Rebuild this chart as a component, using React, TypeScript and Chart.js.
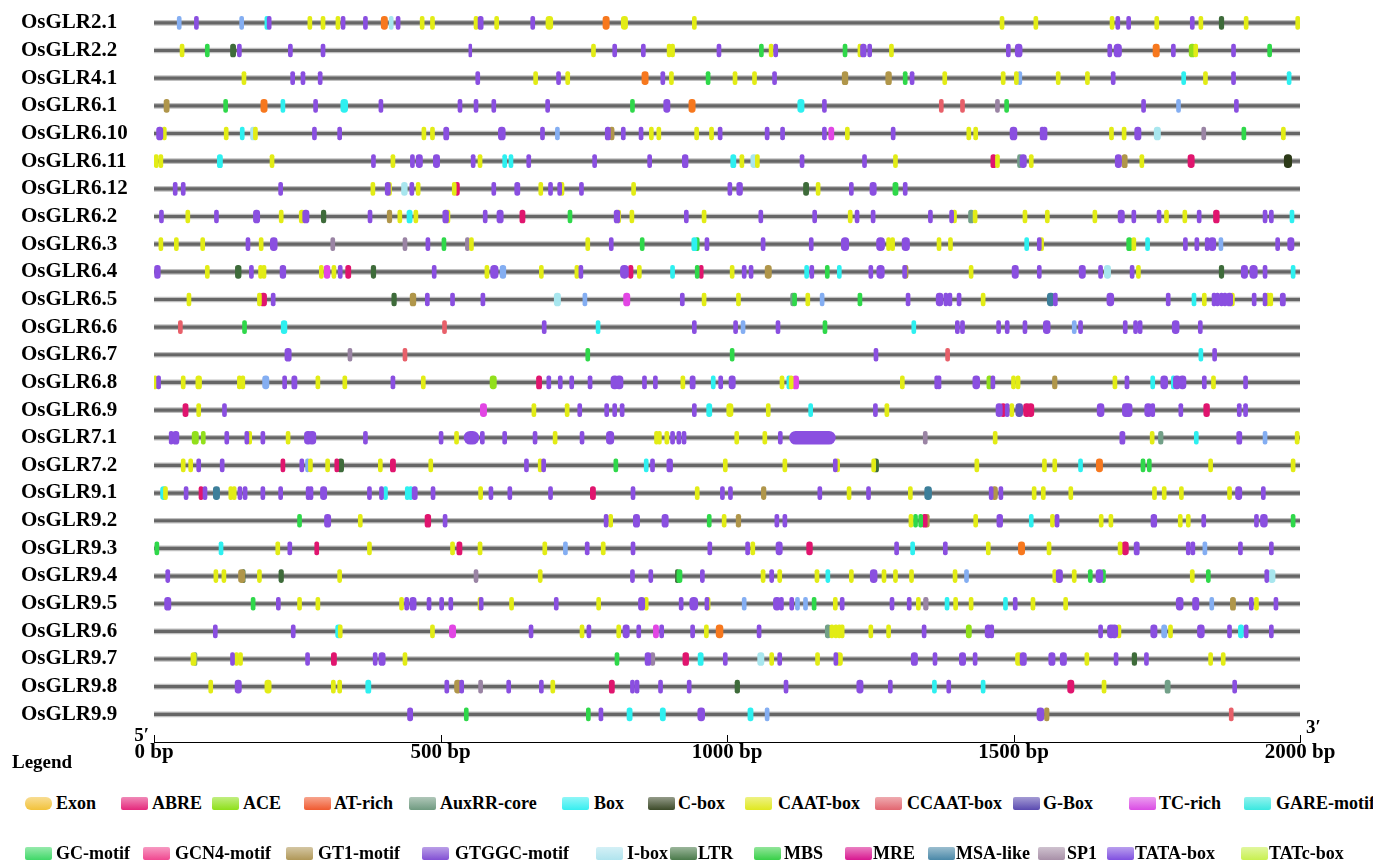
import React, { useEffect, useRef } from "react";
import { Chart, registerables } from "chart.js";

Chart.register(...registerables);

// ---------------- data ----------------
const GENES = [
  "OsGLR2.1", "OsGLR2.2", "OsGLR4.1", "OsGLR6.1", "OsGLR6.10", "OsGLR6.11", "OsGLR6.12",
  "OsGLR6.2", "OsGLR6.3", "OsGLR6.4", "OsGLR6.5", "OsGLR6.6", "OsGLR6.7", "OsGLR6.8",
  "OsGLR6.9", "OsGLR7.1", "OsGLR7.2", "OsGLR9.1", "OsGLR9.2", "OsGLR9.3", "OsGLR9.4",
  "OsGLR9.5", "OsGLR9.6", "OsGLR9.7", "OsGLR9.8", "OsGLR9.9",
];
const SEQ_LENGTH = 2000;
const X_TICKS = [0, 500, 1000, 1500, 2000];
const DEFAULT_SPAN = 7; // bp

const MOTIF_CODES = ["P", "Y", "C", "L", "G", "O", "R", "S", "T", "D", "M", "K", "A", "U", "X", "I", "N", "B"];
const MOTIF_NAMES = ["TATA-box", "CAAT-box", "Box", "G-box", "MBS", "AT-rich", "MRE", "CCAAT-box", "GT1-motif", "LTR", "SP1", "TC-rich", "ACE", "MSA-like", "AuxRR-core", "I-box", "C-box", "G-Box"];
const MOTIF_COLORS = ["#8a4fe0", "#e2ec16", "#2ef0f0", "#84aef2", "#2fd84a", "#f7781e", "#e0156e", "#e8606a", "#b0964a", "#3e6b3a", "#9a84a4", "#e246e4", "#92e01c", "#3d7f9a", "#72a088", "#a8e6ee", "#2c3a18", "#6656b8"];

type Motif = [string, number, number?];

const OsGLR2_1: Motif[] = [["L",44],["P",74],["L",153],["C",197],["P",201],["Y",272],["Y",295],["Y",321],["P",330],["P",369],["O",402,11],["I",414],["P",426],["Y",468],["Y",486],["Y",562],["P",570,9],["Y",598],["P",661],["Y",690,12],["O",789,11],["Y",821,11],["Y",943],["Y",1480],["Y",1539],["Y",1672],["P",1682],["P",1701],["Y",1750],["P",1812],["Y",1827],["D",1863,8],["Y",1906],["Y",1996]];
const OsGLR2_2: Motif[] = [["Y",49],["G",93],["D",138,9],["P",149],["P",238],["P",295],["P",552,5],["Y",767],["P",804],["P",854],["Y",899],["Y",905],["P",986],["G",1060],["Y",1077],["P",1085],["G",1206],["Y",1232],["P",1238,10],["P",1249],["Y",1287],["P",1491],["P",1509,12],["P",1668],["P",1682,13],["O",1749,11],["P",1779],["A",1812,11],["Y",1818],["P",1884],["G",1947]];
const OsGLR4_1: Motif[] = [["Y",157],["P",242],["P",260],["P",290],["P",565],["Y",666],["P",706],["Y",722],["O",857,11],["P",888],["Y",903],["G",967],["Y",1014],["Y",1048],["P",1083],["T",1206,10],["T",1282,10],["G",1311],["P",1323],["Y",1380],["Y",1482],["Y",1505],["L",1511],["Y",1578],["Y",1629],["P",1674],["C",1797],["Y",1835],["P",1884],["C",1981]];
const OsGLR6_1: Motif[] = [["T",22,9],["G",125],["O",192,11],["C",225],["P",282],["C",332,12],["P",396],["P",534],["P",562],["P",593],["P",687],["G",835],["P",895,11],["O",939,11],["C",1129,11],["P",1170],["S",1374],["S",1411],["M",1472],["G",1488],["P",1727],["L",1788],["P",1889]];
const OsGLR6_10: Motif[] = [["P",10,11],["Y",18],["Y",126],["C",154],["I",173,9],["Y",177],["P",280],["P",324],["Y",471],["Y",486],["P",510,9],["P",607,12],["P",678],["L",704],["P",792,9],["T",799,8],["P",819],["P",850],["Y",868],["Y",881],["Y",947],["Y",973],["P",988],["P",1070],["P",1097],["P",1170],["K",1182,9],["Y",1210],["P",1290],["Y",1422],["Y",1434],["P",1500,12],["P",1550],["P",1554,9],["Y",1671],["Y",1693],["P",1717,11],["I",1751,11],["M",1832],["G",1902],["Y",1971]];
const OsGLR6_11: Motif[] = [["Y",4],["Y",12],["C",115,9],["Y",206],["P",383],["Y",417],["P",451],["P",463,11],["P",493,11],["P",557],["Y",569],["C",612],["C",623],["P",654],["P",769],["P",865],["P",927,10],["C",1011,9],["Y",1026],["I",1047,11],["Y",1053],["P",1131],["P",1240],["Y",1294],["R",1465,9],["Y",1472],["X",1511,8],["P",1517,11],["Y",1531],["P",1683,11],["T",1694,9],["Y",1724],["R",1810,11],["N",1979,13]];
const OsGLR6_12: Motif[] = [["P",37],["P",51],["P",221],["Y",382],["P",408,9],["Y",411],["I",437,10],["P",450],["Y",461],["Y",524],["R",529,8],["P",593],["P",634,9],["Y",675],["P",692],["P",708],["Y",712],["P",746],["Y",837],["P",1005],["P",1022,10],["D",1138,9],["Y",1159],["P",1217],["P",1255,11],["G",1294,9],["P",1311]];
const OsGLR6_2: Motif[] = [["P",13],["Y",59],["P",109],["P",179,11],["Y",222],["Y",258,9],["P",265,11],["D",296,8],["P",377],["T",411,8],["Y",429],["C",446,9],["Y",457],["P",509,10],["Y",513],["P",578],["P",604,11],["R",643,9],["G",726],["P",808,10],["Y",811],["Y",834],["P",929],["Y",960],["P",1059],["P",1153],["Y",1215],["P",1227],["P",1255],["P",1355],["P",1392],["Y",1397],["X",1426,9],["Y",1433],["Y",1520],["Y",1559],["Y",1642],["P",1688,11],["P",1710],["P",1754],["Y",1767],["Y",1799],["P",1824],["R",1854,10],["P",1939],["P",1950],["C",1986]];
const OsGLR6_3: Motif[] = [["Y",12],["Y",39],["Y",85],["P",164],["Y",187],["P",209,12],["M",312],["M",438],["P",478],["G",506],["M",547],["Y",554],["Y",757],["P",798],["G",852],["C",943,9],["G",948],["P",965],["P",1063],["P",1147],["P",1206,13],["P",1268,14],["Y",1282],["Y",1289],["P",1312,13],["Y",1370],["Y",1390],["C",1523],["P",1545],["Y",1549],["G",1702,9],["Y",1710],["C",1734],["P",1800],["P",1820],["P",1838],["P",1847,12],["L",1862],["P",1961],["P",1984,11]];
const OsGLR6_4: Motif[] = [["P",6,10],["Y",93],["D",147,10],["P",170],["Y",186],["Y",192],["P",225,10],["Y",292],["K",302,10],["Y",314],["P",325],["R",339,9],["D",383,8],["P",489],["Y",581],["P",594,13],["L",609,10],["Y",676],["Y",738],["P",745],["P",821,14],["R",832,8],["Y",847],["C",905],["G",948],["R",955],["Y",1009],["P",1030],["P",1042],["T",1072,11],["C",1139],["P",1148],["G",1175],["C",1196],["P",1251],["P",1268,13],["P",1310],["T",1312,8],["Y",1426],["P",1503,11],["P",1545],["P",1620,11],["P",1652],["I",1664,11],["P",1707],["Y",1718],["D",1863,8],["P",1903,11],["P",1919,13],["P",1939],["C",1988]];
const OsGLR6_5: Motif[] = [["Y",61],["Y",184],["R",191,11],["P",208],["D",419,8],["T",452,10],["P",477],["P",521],["P",574],["I",704,11],["L",752],["K",825,11],["P",922],["Y",960],["Y",1020],["X",1115,8],["G",1118],["Y",1141],["L",1166],["G",1232],["P",1316],["P",1371,12],["P",1382],["P",1389],["P",1405],["Y",1447],["U",1565,12],["P",1573],["P",1669,12],["P",1770],["C",1815],["Y",1833],["P",1850],["P",1856],["P",1863],["P",1869],["P",1877,11],["Y",1882],["P",1920],["P",1939],["Y",1944],["Y",1949],["P",1970,9]];
const OsGLR6_6: Motif[] = [["S",46],["G",158],["C",227,10],["S",507],["P",681],["C",775],["P",943],["P",1015],["L",1028],["P",1089],["G",1171],["C",1326],["P",1402],["P",1411],["P",1474],["P",1489],["P",1520],["P",1558,12],["L",1606],["P",1617],["P",1695],["P",1713],["P",1721],["P",1783,12],["P",1826]];
const OsGLR6_7: Motif[] = [["P",234,11],["M",342],["S",438],["G",757],["G",1009],["P",1260],["S",1385],["C",1827],["P",1851]];
const OsGLR6_8: Motif[] = [["Y",2],["P",8],["Y",51],["Y",78,10],["Y",149],["Y",155],["L",195,11],["P",228],["P",245,9],["Y",286],["Y",333],["P",417],["Y",470],["A",592,11],["R",672,9],["P",689],["P",709],["P",729],["P",761],["P",804,13],["P",812,13],["P",856],["P",875],["Y",923],["P",940,9],["C",976],["P",989],["P",1009,11],["Y",1096],["C",1108],["Y",1112],["K",1120,10],["Y",1306],["P",1366],["P",1370],["P",1435,12],["A",1458,9],["P",1464],["Y",1500],["Y",1508],["T",1572,8],["Y",1677],["P",1698],["C",1743],["P",1763,12],["C",1779],["P",1785,12],["P",1795,12],["P",1833],["Y",1849],["P",1905]];
const OsGLR6_9: Motif[] = [["R",55,9],["Y",78],["P",123],["K",575,11],["Y",663],["Y",721],["P",743],["P",790],["P",804],["P",817],["P",943],["C",969,9],["Y",1005,11],["Y",1072],["C",1146],["P",1259],["Y",1279],["P",1475,11],["R",1482,8],["P",1489],["Y",1497],["B",1510,12],["R",1523,11],["R",1530,11],["P",1652,12],["P",1696,12],["P",1701,12],["P",1735,12],["P",1743],["P",1792],["R",1837,10],["P",1894],["P",1905]];
const OsGLR7_1: Motif[] = [["P",30],["P",38,11],["A",72,11],["A",86],["P",127],["P",162],["Y",167],["P",190],["Y",234],["P",269,13],["P",276,13],["P",369],["P",501],["Y",528],["P",554,26],["P",573],["P",612],["P",665],["Y",700],["P",747],["P",796,13],["Y",877],["Y",882],["Y",895],["P",905],["P",916],["P",925],["Y",1017],["Y",1066],["P",1093],["P",1149,80],["M",1346],["Y",1468],["P",1690,9],["Y",1742],["X",1757,8],["C",1819],["P",1894,9],["L",1939],["Y",1995]];
const OsGLR7_2: Motif[] = [["Y",51],["Y",64],["P",78],["P",119],["R",225],["P",258],["L",268],["Y",273],["Y",303],["R",319],["D",326,10],["Y",395],["R",417,9],["Y",483],["P",650],["Y",674],["P",680],["G",806],["C",859],["P",870],["P",900,10],["Y",997],["Y",1101],["P",1189],["Y",1193],["Y",1256],["D",1260,9],["Y",1436],["Y",1554],["Y",1572],["C",1617],["O",1650,11],["G",1726],["G",1737],["Y",1844],["Y",1988]];
const OsGLR9_1: Motif[] = [["C",17,11],["Y",20],["P",56],["R",82],["P",89],["U",109,11],["Y",134],["Y",140],["P",150],["P",159],["P",190],["P",221],["P",269],["P",274],["P",296,11],["P",376],["P",397],["C",404],["C",442],["C",448],["P",455,9],["P",487],["Y",570],["P",588],["P",621],["P",692],["R",766,9],["P",836],["Y",948],["P",992],["P",1006],["T",1064,8],["P",1162],["Y",1213],["P",1247],["Y",1320],["U",1351,12],["P",1461],["T",1467,10],["P",1478],["Y",1536],["Y",1552],["Y",1600],["Y",1746],["Y",1763],["Y",1793],["Y",1877],["P",1893,11],["P",1936]];
const OsGLR9_2: Motif[] = [["G",254],["P",303,11],["Y",360],["R",478,10],["P",508],["P",789],["Y",797],["P",842,11],["P",892,11],["G",969],["Y",995],["T",1020,8],["P",1087],["P",1101],["Y",1321],["G",1329],["G",1338],["R",1345,9],["T",1349,8],["Y",1434],["P",1476,10],["C",1531],["Y",1568],["P",1576],["Y",1653],["Y",1670],["P",1745,10],["Y",1791],["Y",1805],["P",1832],["P",1924],["P",1937,12],["G",1988]];
const OsGLR9_3: Motif[] = [["G",5],["C",117],["Y",216],["P",237],["R",284],["Y",376],["Y",521],["R",533,9],["Y",569],["Y",682],["L",718],["P",756],["Y",784],["P",836],["P",970],["P",1036],["Y",1045],["P",1091,11],["R",1144,10],["P",1296],["C",1324],["P",1381],["Y",1456],["O",1514,11],["Y",1562],["Y",1686],["R",1695,11],["P",1715,9],["P",1805],["P",1813],["L",1834],["P",1896],["P",1950]];
const OsGLR9_4: Motif[] = [["P",24],["Y",108],["Y",122],["T",153,11],["D",156,6],["Y",184],["D",222,8],["Y",324],["M",562],["Y",674],["P",835],["P",867],["D",913,6],["G",917,9],["P",957],["Y",1063],["P",1078],["Y",1092],["Y",1157],["C",1176],["Y",1217],["P",1256,12],["Y",1274],["Y",1294],["Y",1322],["Y",1398],["L",1418],["Y",1572],["P",1580,11],["Y",1606],["G",1634],["P",1650,12],["G",1657],["Y",1812],["G",1840],["P",1942],["I",1951,11]];
const OsGLR9_5: Motif[] = [["P",24,11],["G",173],["P",217],["Y",254],["Y",286],["Y",432],["P",441],["P",452,11],["P",480],["P",502],["P",518],["Y",569],["P",571],["Y",624],["P",702],["Y",776],["P",851,11],["Y",859],["P",920],["P",942,14],["P",965],["Y",967],["L",1030],["P",1087,12],["P",1095],["P",1113],["L",1123],["L",1137],["G",1152],["Y",1189],["P",1201],["P",1288],["P",1318],["Y",1334],["M",1347,8],["C",1384],["Y",1399],["Y",1426],["C",1486],["P",1503],["Y",1534],["Y",1591],["P",1790,12],["P",1818,11],["L",1846],["T",1883,9],["P",1915],["Y",1924],["P",1958]];
const OsGLR9_6: Motif[] = [["P",107],["P",243],["C",322,10],["Y",325],["Y",486],["K",521,11],["P",658],["Y",747],["P",759],["Y",811],["P",824,11],["P",846],["K",876,9],["P",886],["P",940],["Y",964],["O",987,12],["P",1056],["X",1176,9],["Y",1183],["Y",1190],["Y",1196],["Y",1201],["Y",1251],["Y",1282],["P",1344],["A",1422,9],["P",1456,11],["P",1462],["P",1652],["P",1670,12],["P",1676,12],["Y",1684],["P",1745,11],["L",1763,9],["Y",1774],["P",1827,12],["P",1877],["C",1897,9],["P",1906],["P",1950]];
const OsGLR9_7: Motif[] = [["Y",69,9],["X",72,6],["P",137],["Y",144],["Y",151],["P",268],["R",314,9],["P",386],["P",398,11],["Y",438],["G",808],["P",862,10],["M",870,8],["R",928,10],["C",954,9],["P",997],["I",1059,11],["Y",1078],["P",1092],["Y",1158],["P",1190],["Y",1196,11],["P",1327,11],["P",1363],["P",1411,11],["P",1433],["Y",1509,11],["P",1517,11],["P",1567,11],["P",1587,11],["Y",1628],["P",1679],["D",1711,8],["P",1732],["Y",1844],["Y",1866]];
const OsGLR9_8: Motif[] = [["Y",99],["P",147,11],["Y",199,11],["Y",313],["Y",324],["C",374,9],["P",511],["T",530,11],["P",537],["M",570],["P",619],["P",676],["Y",696],["R",799,9],["P",835],["P",843],["P",884],["P",934],["D",1018,8],["P",1103],["P",1232,11],["P",1285],["C",1362],["P",1387],["C",1447],["R",1600,11],["Y",1658],["X",1769,9],["P",1886]];
const OsGLR9_9: Motif[] = [["P",447,9],["G",545],["G",758],["P",780],["C",830,9],["C",888,9],["P",955,12],["C",1041,9],["L",1070],["P",1547,12],["T",1558,8],["S",1880]];

const ROWS: Motif[][] = [
  OsGLR2_1, OsGLR2_2, OsGLR4_1, OsGLR6_1, OsGLR6_10, OsGLR6_11, OsGLR6_12, OsGLR6_2,
  OsGLR6_3, OsGLR6_4, OsGLR6_5, OsGLR6_6, OsGLR6_7, OsGLR6_8, OsGLR6_9, OsGLR7_1,
  OsGLR7_2, OsGLR9_1, OsGLR9_2, OsGLR9_3, OsGLR9_4, OsGLR9_5, OsGLR9_6, OsGLR9_7,
  OsGLR9_8, OsGLR9_9,
];

// legend
const LEGEND_ROW1 = ["Exon", "ABRE", "ACE", "AT-rich", "AuxRR-core", "Box", "C-box", "CAAT-box", "CCAAT-box", "G-Box", "TC-rich", "GARE-motif"];
const LEGEND_ROW1_COLORS = ["#f2c23a", "#e4287c", "#8ee01a", "#f05a30", "#6f9a80", "#36eef0", "#3c4a28", "#e0e820", "#e26670", "#5a4ab0", "#da4ce4", "#3ae8e0"];
const LEGEND_ROW2 = ["GC-motif", "GCN4-motif", "GT1-motif", "GTGGC-motif", "I-box", "LTR", "MBS", "MRE", "MSA-like", "SP1", "TATA-box", "TATc-box"];
const LEGEND_ROW2_COLORS = ["#40d868", "#f04890", "#b09858", "#8250d4", "#b0e4ee", "#4a7a4a", "#38d048", "#d81890", "#4a88a8", "#a890a8", "#8050e0", "#c8f050"];

// ---------------- layout (styles) ----------------
const FONT = '"Liberation Serif", "Times New Roman", serif';
const LEG1_POS = [[25, 56], [121, 152], [212, 243], [304, 334], [409, 440], [562, 594], [648, 678], [745, 778], [875, 907], [1013, 1043], [1129, 1159], [1244, 1276]];
const LEG2_POS = [[25, 56], [143, 175], [286, 318], [422, 455], [596, 627], [670, 698], [754, 784], [845, 873], [928, 956], [1038, 1067], [1107, 1135], [1241, 1269]];

function lighten(hex: string, amt: number) {
  const n = parseInt(hex.slice(1), 16);
  const r = (n >> 16) & 255, g = (n >> 8) & 255, b = n & 255;
  const f = (c: number) => Math.round(c + (255 - c) * amt);
  return `rgb(${f(r)},${f(g)},${f(b)})`;
}

const axisDecor = {
  id: "axisDecor",
  afterDraw(chart: any) {
    const { ctx, chartArea } = chart;
    const x = chart.scales.x;
    ctx.save();
    ctx.strokeStyle = "#000";
    ctx.lineWidth = 1;
    X_TICKS.forEach((v) => {
      const px = Math.round(x.getPixelForValue(v)) + 0.5;
      ctx.beginPath();
      ctx.moveTo(px, chartArea.bottom);
      ctx.lineTo(px, chartArea.bottom - 7);
      ctx.stroke();
    });
    ctx.fillStyle = "#000";
    ctx.font = `bold 19px ${FONT}`;
    ctx.textBaseline = "alphabetic";
    ctx.textAlign = "right";
    ctx.fillText("5\u2032", x.getPixelForValue(0) - 5, chartArea.bottom - 1);
    ctx.textAlign = "left";
    ctx.fillText("3\u2032", x.getPixelForValue(SEQ_LENGTH) + 6, chartArea.bottom - 9);
    ctx.restore();
  },
};

export default function App() {
  const ref = useRef<HTMLCanvasElement>(null);

  useEffect(() => {
    if (!ref.current) return;
    const datasets: any[] = [];
    MOTIF_CODES.forEach((code, k) => {
      const data: any[] = [];
      ROWS.forEach((row, i) =>
        row.forEach(([c, pos, span]) => {
          if (c !== code) return;
          const s = span ?? DEFAULT_SPAN;
          data.push({ x: [pos - s / 2, pos + s / 2], y: i });
        })
      );
      datasets.push({
        label: MOTIF_NAMES[k],
        data,
        backgroundColor: MOTIF_COLORS[k],
        barThickness: 13,
        borderRadius: { topLeft: 50, topRight: 50, bottomLeft: 50, bottomRight: 50 },
        borderSkipped: false,
        borderWidth: 0,
        order: 0,
      });
    });
    datasets.push({
      label: "sequence",
      data: GENES.map((_, i) => ({ x: [0, SEQ_LENGTH], y: i })),
      backgroundColor: "#666666",
      barThickness: 2.5,
      borderRadius: 0,
      borderSkipped: false,
      borderWidth: 0,
      order: 5,
    });
    datasets.push({
      label: "sequence-halo",
      data: GENES.map((_, i) => ({ x: [0, SEQ_LENGTH], y: i })),
      backgroundColor: "#c0c0c0",
      barThickness: 5,
      borderRadius: 0,
      borderSkipped: false,
      borderWidth: 0,
      order: 6,
    });

    const chart = new Chart(ref.current, {
      type: "bar",
      data: { datasets },
      options: {
        indexAxis: "y",
        animation: false,
        responsive: false,
        grouped: false,
        layout: { padding: { left: 13, right: 73, top: 0, bottom: 0 } },
        plugins: { legend: { display: false }, tooltip: { enabled: false } },
        scales: {
          y: {
            type: "linear",
            offset: false,
            bounds: "data",
            reverse: true,
            min: -0.5,
            max: GENES.length,
            afterBuildTicks: (axis: any) => {
              axis.ticks = GENES.map((_, i) => ({ value: i }));
            },
            afterFit: (axis: any) => {
              axis.width = 133;
            },
            ticks: {
              autoSkip: false,
              crossAlign: "far",
              padding: 0,
              color: "#000",
              font: { family: FONT, weight: "bold", size: 21, lineHeight: 0.1 },
              callback: (v: any) => GENES[v] ?? "",
            },
            grid: { display: false, offset: false },
            border: { display: false },
          },
          x: {
            type: "linear",
            offset: false,
            bounds: "data",
            position: "bottom",
            min: 0,
            max: SEQ_LENGTH,
            afterBuildTicks: (axis: any) => {
              axis.ticks = X_TICKS.map((v) => ({ value: v }));
            },
            afterFit: (axis: any) => {
              axis.height = 30;
            },
            ticks: {
              autoSkip: false,
              maxRotation: 0,
              padding: 0,
              color: "#000",
              font: { family: FONT, weight: "bold", size: 21, lineHeight: 1 },
              callback: (v: any) => `${v} bp`,
            },
            grid: { display: false, drawTicks: false },
            border: { display: true, color: "#000", width: 1 },
          },
        },
      } as any,
      plugins: [axisDecor],
    });
    return () => chart.destroy();
  }, []);

  const swatch = (color: string, left: number, top: number, round: boolean) => ({
    position: "absolute" as const,
    left: left - 8,
    top: top - 8,
    width: 27,
    height: 13,
    borderRadius: round ? 6 : 2,
    background: `linear-gradient(to bottom, ${lighten(color, 0.45)}, ${color})`,
  });
  const text = (left: number, top: number) => ({
    position: "absolute" as const,
    left: left - 8,
    top: top - 8,
    fontFamily: FONT,
    fontWeight: 700,
    fontSize: 18,
    lineHeight: "20px",
    color: "#000",
    whiteSpace: "nowrap" as const,
  });

  return (
    <div style={{ position: "relative", width: 1365, height: 853, overflow: "hidden" }}>
      <canvas ref={ref} width={1365} height={764} style={{ display: "block" }} />
      <div style={{ ...text(12, 752), fontSize: 19 }}>Legend</div>
      {LEGEND_ROW1.map((name, i) => (
        <React.Fragment key={name}>
          <div style={swatch(LEGEND_ROW1_COLORS[i], LEG1_POS[i][0], 797, i === 0)} />
          <div style={text(LEG1_POS[i][1], 793)}>{name}</div>
        </React.Fragment>
      ))}
      {LEGEND_ROW2.map((name, i) => (
        <React.Fragment key={name}>
          <div style={swatch(LEGEND_ROW2_COLORS[i], LEG2_POS[i][0], 847, false)} />
          <div style={text(LEG2_POS[i][1], 843)}>{name}</div>
        </React.Fragment>
      ))}
    </div>
  );
}
